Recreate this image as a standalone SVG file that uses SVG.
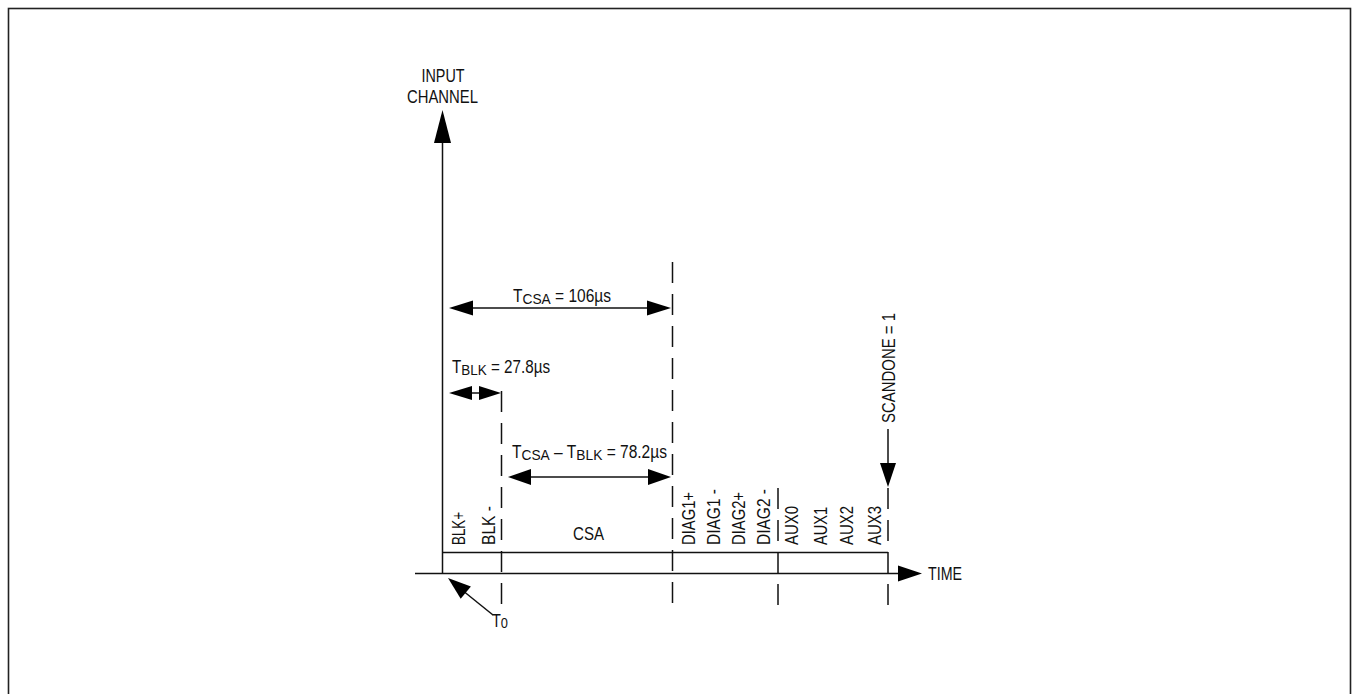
<svg xmlns="http://www.w3.org/2000/svg" width="1353" height="694" viewBox="0 0 1353 694">
<style>
text{font-family:"Liberation Sans",Arial,sans-serif;font-size:17.5px;fill:#111}
.ln{stroke:#111;stroke-width:1.5;fill:none}
.ds{stroke:#111;stroke-width:1.5;fill:none;stroke-dasharray:21 11}
.ah{fill:#000;stroke:none}
.sub{font-size:15.5px}
</style>
<rect x="8.5" y="8.5" width="1342" height="700" fill="#fff" stroke="#222" stroke-width="1.6"/>
<g id="axes">
<line class="ln" x1="442.5" y1="140" x2="442.5" y2="574"/>
<polygon class="ah" points="442.5,110 451,143 434,143"/>
<text id="lbl-input" x="443" y="82" text-anchor="middle" textLength="43" lengthAdjust="spacingAndGlyphs">INPUT</text>
<text x="442.5" y="103" text-anchor="middle" textLength="71" lengthAdjust="spacingAndGlyphs">CHANNEL</text>
<line class="ln" x1="415" y1="573.5" x2="900" y2="573.5"/>
<polygon class="ah" points="922,573.5 898,565.5 898,581.5"/>
<text x="928" y="580" textLength="34" lengthAdjust="spacingAndGlyphs">TIME</text>
</g>
<g id="connectors">
<line class="ds" x1="501.5" y1="391" x2="501.5" y2="606"/>
<line class="ds" x1="672.5" y1="262" x2="672.5" y2="606"/>
<line class="ds" x1="778" y1="488" x2="778" y2="606"/>
<line class="ds" x1="888" y1="488" x2="888" y2="606"/>
<line class="ln" x1="442.5" y1="552.5" x2="888" y2="552.5"/>
</g>
<g id="tcsa">
<line class="ln" x1="470" y1="308" x2="650" y2="308"/>
<polygon class="ah" points="449,308 473,300.5 473,315.5"/>
<polygon class="ah" points="671,308 647,300.5 647,315.5"/>
<text x="513" y="302" textLength="98" lengthAdjust="spacingAndGlyphs">T<tspan class="sub" dy="2">CSA</tspan><tspan dy="-2"> = 106µs</tspan></text>
</g>
<g id="tblk">
<line class="ln" x1="460" y1="393" x2="495" y2="393"/>
<polygon class="ah" points="449,393 472,386 472,400"/>
<polygon class="ah" points="501,393 479,386 479,400"/>
<text x="452" y="373" textLength="98" lengthAdjust="spacingAndGlyphs">T<tspan class="sub" dy="2">BLK</tspan><tspan dy="-2"> = 27.8µs</tspan></text>
</g>
<g id="tdiff">
<line class="ln" x1="525" y1="477" x2="655" y2="477"/>
<polygon class="ah" points="508,477 531,469 531,485"/>
<polygon class="ah" points="671,477 648,469 648,485"/>
<text x="512" y="458" textLength="155" lengthAdjust="spacingAndGlyphs">T<tspan class="sub" dy="2">CSA</tspan><tspan dy="-2"> – T</tspan><tspan class="sub" dy="2">BLK</tspan><tspan dy="-2"> = 78.2µs</tspan></text>
</g>
<g id="t0">
<line class="ln" x1="493" y1="615" x2="462" y2="590"/>
<polygon class="ah" points="448,578 460.7,598.8 470.9,586.4"/>
<text x="492" y="627" textLength="16" lengthAdjust="spacingAndGlyphs">T<tspan class="sub" dy="1">0</tspan></text>
</g>
<g id="scandone">
<line class="ln" x1="888" y1="429" x2="888" y2="466"/>
<polygon class="ah" points="888,487 880,463 896,463"/>
<text transform="translate(895,423) rotate(-90)" textLength="110" lengthAdjust="spacingAndGlyphs">SCANDONE = 1</text>
</g>
<g id="segments">
<text transform="translate(465,545) rotate(-90)" textLength="33" lengthAdjust="spacingAndGlyphs">BLK+</text>
<text transform="translate(495,545) rotate(-90)" textLength="39" lengthAdjust="spacingAndGlyphs">BLK -</text>
<text x="573" y="540" textLength="31" lengthAdjust="spacingAndGlyphs">CSA</text>
<text transform="translate(695,545) rotate(-90)" textLength="53" lengthAdjust="spacingAndGlyphs">DIAG1+</text>
<text transform="translate(720,545) rotate(-90)" textLength="56" lengthAdjust="spacingAndGlyphs">DIAG1 -</text>
<text transform="translate(745,545) rotate(-90)" textLength="53" lengthAdjust="spacingAndGlyphs">DIAG2+</text>
<text transform="translate(770,545) rotate(-90)" textLength="56" lengthAdjust="spacingAndGlyphs">DIAG2 -</text>
<text transform="translate(798,545) rotate(-90)" textLength="39" lengthAdjust="spacingAndGlyphs">AUX0</text>
<text transform="translate(827,545) rotate(-90)" textLength="38" lengthAdjust="spacingAndGlyphs">AUX1</text>
<text transform="translate(853,545) rotate(-90)" textLength="39" lengthAdjust="spacingAndGlyphs">AUX2</text>
<text transform="translate(881,545) rotate(-90)" textLength="39" lengthAdjust="spacingAndGlyphs">AUX3</text>
</g>
</svg>
